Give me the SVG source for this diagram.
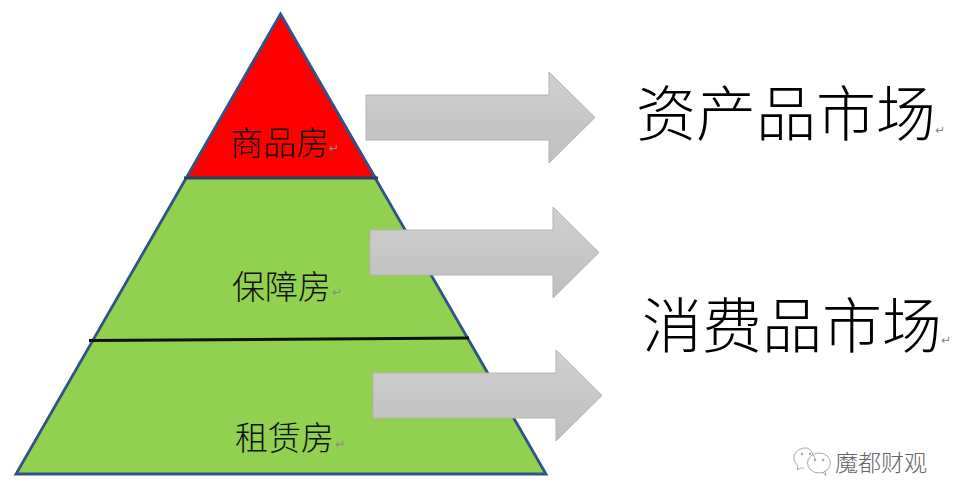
<svg xmlns="http://www.w3.org/2000/svg" width="958" height="504" viewBox="0 0 958 504">
<style>
text{font-family:"Noto Sans CJK SC","Liberation Sans",sans-serif;fill:#111}
.lab{font-size:33px;font-weight:300}
.big{font-size:60px;font-weight:300;fill:#000}
.ret{fill:#888;font-family:"DejaVu Sans",sans-serif;font-size:12px}
.arrow{fill:url(#g);stroke:#b4b4b4;stroke-width:1}
.ic{fill:none;stroke:#aaa;stroke-width:1}
</style>
<defs>
<linearGradient id="g" x1="0" y1="0" x2="0" y2="1"><stop offset="0" stop-color="#d0d0d0"/><stop offset="1" stop-color="#bfbfbf"/></linearGradient>
<path id="arr" d="M0 23H183V0L229 45.500L183 91V68H0Z"/>
</defs>
<rect width="958" height="504" fill="#fff"/>
<g id="pyramid">
<path d="M280.500 14L546 474H16Z" fill="#92d050"/>
<path d="M280.500 14L377 178H186Z" fill="#f00"/>
<path d="M280.500 14L546 474H16Z" fill="none" stroke="#2f5487" stroke-width="2.800"/>
</g>
<g id="connectors">
<line x1="184" y1="178" x2="378" y2="178" stroke="#24406e" stroke-width="2.800"/>
<line x1="89" y1="340.500" x2="469" y2="338" stroke="#111" stroke-width="3"/>
</g>
<g id="arrow1"><use href="#arr" x="366" y="72" class="arrow"/></g>
<g id="arrow2"><use href="#arr" x="370" y="207" class="arrow"/></g>
<g id="arrow3"><use href="#arr" x="373" y="350" class="arrow"/></g>
<g id="node-commercial"><text x="230" y="155" class="lab">商品房</text><text x="329" y="152" class="ret">↵</text></g>
<g id="node-affordable"><text x="232" y="299" class="lab">保障房</text><text x="332" y="296" class="ret">↵</text></g>
<g id="node-rental"><text x="235" y="450" class="lab">租赁房</text><text x="335" y="448" class="ret">↵</text></g>
<g id="node-asset"><text x="636" y="136" class="big">资产品市场</text><text x="935" y="134" class="ret">↵</text></g>
<g id="node-consumer"><text x="642" y="348" class="big">消费品市场</text><text x="941" y="344" class="ret">↵</text></g>
<g id="watermark">
<path class="ic" d="M806 448c-7 0-12 4-12 10 0 3 2 6 4 8l-1 4 4-2h3M815 459c-2-6-5-11-9-11"/>
<ellipse class="ic" cx="819" cy="463" rx="11.500" ry="10"/>
<path class="ic" d="M823 472l3 4-1-5"/>
<circle cx="802" cy="454" r="1.200" fill="#aaa"/><circle cx="810" cy="454" r="1.200" fill="#aaa"/>
<circle cx="815" cy="460" r="1.200" fill="#aaa"/><circle cx="823" cy="460" r="1.200" fill="#aaa"/>
<text x="835" y="471" font-size="23" font-weight="300" style="fill:#666">魔都财观</text>
</g>
</svg>
